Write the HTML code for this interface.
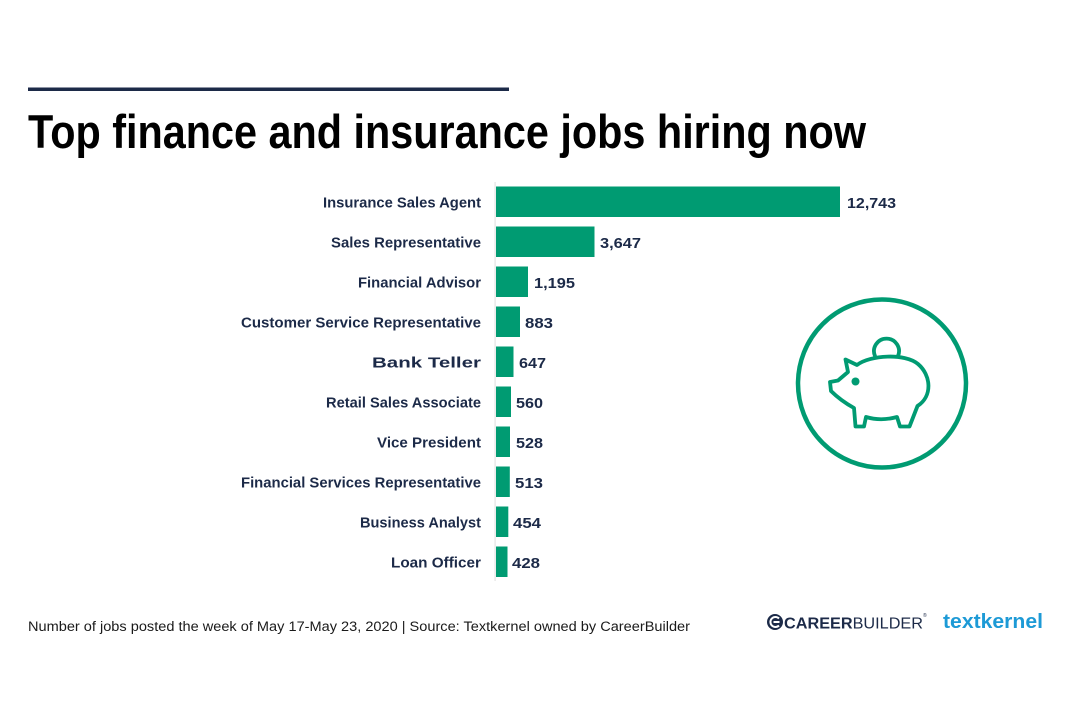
<!DOCTYPE html>
<html>
<head>
<meta charset="utf-8">
<style>
  html, body { margin:0; padding:0; background:#ffffff; }
  body { width:1073px; height:717px; overflow:hidden; }
  svg { display:block; }
  .lbl { font-family:"Liberation Sans", sans-serif; font-weight:bold; font-size:14.5px; fill:#1c2a48; }
</style>
</head>
<body>
<svg width="1073" height="717" viewBox="0 0 1073 717" xmlns="http://www.w3.org/2000/svg">
  <rect width="1073" height="717" fill="#ffffff"/>
  <!-- top rule -->
  <rect x="28" y="87.5" width="481" height="3.5" fill="#1c2a48"/>
  <!-- title -->
  <text x="28" y="148" font-family="Liberation Sans, sans-serif" font-weight="bold" font-size="47" fill="#000000" textLength="838" lengthAdjust="spacingAndGlyphs">Top finance and insurance jobs hiring now</text>

  <!-- axis line -->
  <rect x="494.5" y="182" width="1.2" height="399" fill="#e3e3e3"/>

  <!-- bars -->
  <g fill="#009b72">
    <rect x="496" y="186.5" width="344" height="30.5"/>
    <rect x="496" y="226.5" width="98.5" height="30.5"/>
    <rect x="496" y="266.5" width="32" height="30.5"/>
    <rect x="496" y="306.5" width="24" height="30.5"/>
    <rect x="496" y="346.5" width="17.5" height="30.5"/>
    <rect x="496" y="386.5" width="15" height="30.5"/>
    <rect x="496" y="426.5" width="14" height="30.5"/>
    <rect x="496" y="466.5" width="13.8" height="30.5"/>
    <rect x="496" y="506.5" width="12.3" height="30.5"/>
    <rect x="496" y="546.5" width="11.5" height="30.5"/>
  </g>

  <!-- category labels -->
  <g class="lbl" text-anchor="end">
    <text x="481" y="207.5" textLength="158" lengthAdjust="spacingAndGlyphs">Insurance Sales Agent</text>
    <text x="481" y="247.5" textLength="150" lengthAdjust="spacingAndGlyphs">Sales Representative</text>
    <text x="481" y="287.5" textLength="123" lengthAdjust="spacingAndGlyphs">Financial Advisor</text>
    <text x="481" y="327.5" textLength="240" lengthAdjust="spacingAndGlyphs">Customer Service Representative</text>
    <text x="481" y="367.5" textLength="109" lengthAdjust="spacingAndGlyphs">Bank Teller</text>
    <text x="481" y="407.5" textLength="155" lengthAdjust="spacingAndGlyphs">Retail Sales Associate</text>
    <text x="481" y="447.5" textLength="104" lengthAdjust="spacingAndGlyphs">Vice President</text>
    <text x="481" y="487.5" textLength="240" lengthAdjust="spacingAndGlyphs">Financial Services Representative</text>
    <text x="481" y="527.5" textLength="121" lengthAdjust="spacingAndGlyphs">Business Analyst</text>
    <text x="481" y="567.5" textLength="90" lengthAdjust="spacingAndGlyphs">Loan Officer</text>
  </g>

  <!-- value labels -->
  <g class="lbl">
    <text x="847" y="208" textLength="49" lengthAdjust="spacingAndGlyphs">12,743</text>
    <text x="600" y="248" textLength="41" lengthAdjust="spacingAndGlyphs">3,647</text>
    <text x="534" y="288" textLength="41" lengthAdjust="spacingAndGlyphs">1,195</text>
    <text x="525" y="328" textLength="28" lengthAdjust="spacingAndGlyphs">883</text>
    <text x="519" y="368" textLength="27" lengthAdjust="spacingAndGlyphs">647</text>
    <text x="516" y="408" textLength="27" lengthAdjust="spacingAndGlyphs">560</text>
    <text x="516" y="448" textLength="27" lengthAdjust="spacingAndGlyphs">528</text>
    <text x="515" y="488" textLength="28" lengthAdjust="spacingAndGlyphs">513</text>
    <text x="513" y="528" textLength="28" lengthAdjust="spacingAndGlyphs">454</text>
    <text x="512" y="568" textLength="28" lengthAdjust="spacingAndGlyphs">428</text>
  </g>

  <!-- piggy bank icon -->
  <g fill="none" stroke="#009b72" stroke-linejoin="round" stroke-linecap="round">
    <circle cx="882" cy="383.5" r="84" stroke-width="4.5"/>
    <path stroke-width="3.8" d="M 830 382 L 838 380.5 L 848 372 L 845.5 359.5 L 857 365
      C 870 355, 905 353, 918 364
      C 931 375, 933 396, 917.5 406
      L 909.5 426.5 L 900 426.5 L 897 417
      C 886 420, 876 420, 866 417
      L 864 426.5 L 855.5 426.5 L 854 408
      C 845 403, 836 396, 831 391 Z"/>
    <path stroke-width="3.8" d="M 875 356 A 12.5 12.5 0 1 1 898 356"/>
  </g>
  <circle cx="855.5" cy="381.5" r="4" fill="#009b72"/>

  <!-- footer -->
  <text x="28" y="631" font-family="Liberation Sans, sans-serif" font-size="13.5" fill="#1a1a1a" textLength="662" lengthAdjust="spacingAndGlyphs">Number of jobs posted the week of May 17-May 23, 2020  |  Source: Textkernel owned by CareerBuilder</text>

  <!-- CareerBuilder logo -->
  <g>
    <circle cx="775" cy="622" r="8" fill="#1c2a48"/>
    <path d="M 779 618.5 A 5 5 0 1 0 779 625.5" fill="none" stroke="#ffffff" stroke-width="2"/>
    <rect x="773.5" y="621" width="6" height="2" fill="#ffffff"/>
    <text x="784" y="628.5" font-family="Liberation Sans, sans-serif" font-size="16" fill="#1c2a48" textLength="139" lengthAdjust="spacingAndGlyphs"><tspan font-weight="bold">CAREER</tspan><tspan>BUILDER</tspan></text>
    <text x="923" y="617" font-family="Liberation Sans, sans-serif" font-size="5" fill="#1c2a48">®</text>
  </g>
  <!-- textkernel logo -->
  <text x="943" y="628" font-family="Liberation Sans, sans-serif" font-weight="bold" font-size="20" fill="#1d9ad6" textLength="100" lengthAdjust="spacingAndGlyphs">textkernel</text>
</svg>
</body>
</html>
